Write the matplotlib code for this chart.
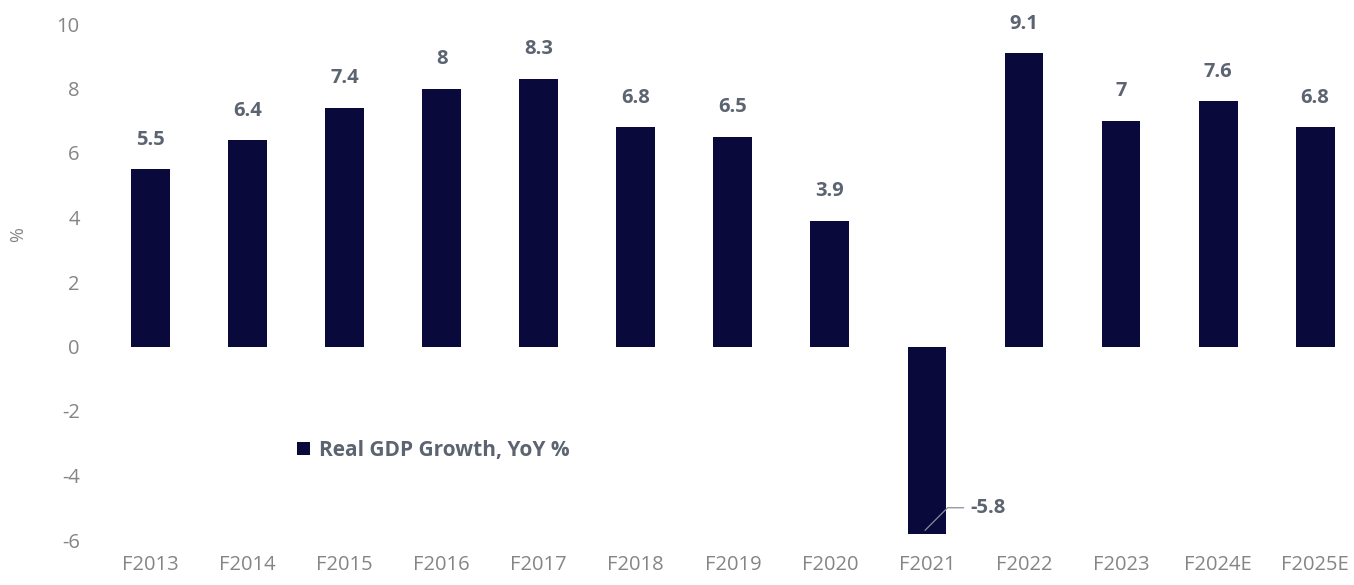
import matplotlib
matplotlib.use("Agg")
import matplotlib.pyplot as plt

categories = ["F2013", "F2014", "F2015", "F2016", "F2017", "F2018", "F2019",
              "F2020", "F2021", "F2022", "F2023", "F2024E", "F2025E"]
values = [5.5, 6.4, 7.4, 8, 8.3, 6.8, 6.5, 3.9, -5.8, 9.1, 7, 7.6, 6.8]
labels = ["5.5", "6.4", "7.4", "8", "8.3", "6.8", "6.5", "3.9", "-5.8", "9.1", "7", "7.6", "6.8"]
yticks = [-6, -4, -2, 0, 2, 4, 6, 8, 10]
series_name = "Real GDP Growth, YoY %"

plt.rcParams['font.family'] = ['Open Sans', 'DejaVu Sans']
bar_color = "#09093c"
tick_color = "#858585"
label_color = "#5b6470"

fig = plt.figure(figsize=(13.54, 5.85), dpi=100)
ax = fig.add_axes([102/1354, 1-540/585, 1-102/1354, (540-24)/585])
x = list(range(len(categories)))
bars = ax.bar(x, values, width=0.4, color=bar_color, label=series_name)
ax.set_xlim(-0.5, 12.4)
ax.set_ylim(-6, 10)
ax.set_yticks(yticks)
ax.set_yticklabels([str(t) for t in yticks])
ax.set_xticks(x)
ax.set_xticklabels(categories)
for s in ax.spines.values():
    s.set_visible(False)
ax.tick_params(axis='both', length=0, colors=tick_color, labelsize=14.5)
ax.tick_params(axis='y', pad=16)
ax.tick_params(axis='x', pad=11)
fig.text(18/1354, 1-235/585, "%", rotation=90, color=tick_color, fontsize=13,
         ha='center', va='center')

for xi, v, lab in zip(x, values, labels):
    if v >= 0:
        ax.annotate(lab, (xi, v), xytext=(0, 14), textcoords='offset points',
                    ha='center', va='bottom', fontsize=14.5, fontweight='bold',
                    color=label_color)
    else:
        ax.annotate(lab, (xi - 0.02, v + 0.1), xytext=(xi + 0.45, v + 0.8),
                    textcoords='data', ha='left', va='center', fontsize=14.5,
                    fontweight='bold', color=label_color,
                    arrowprops=dict(arrowstyle='-', color='#8a8f96', lw=0.9,
                                    connectionstyle='angle,angleA=0,angleB=45,rad=0',
                                    shrinkA=3, shrinkB=0))

leg = ax.legend(loc='upper left', bbox_to_anchor=(0.141, 0.23), frameon=False,
                handlelength=0.6, handleheight=0.6, handletextpad=0.45,
                prop={'size': 15, 'weight': 'bold'})
for t in leg.get_texts():
    t.set_color(label_color)

fig.savefig("out.png", dpi=100)
